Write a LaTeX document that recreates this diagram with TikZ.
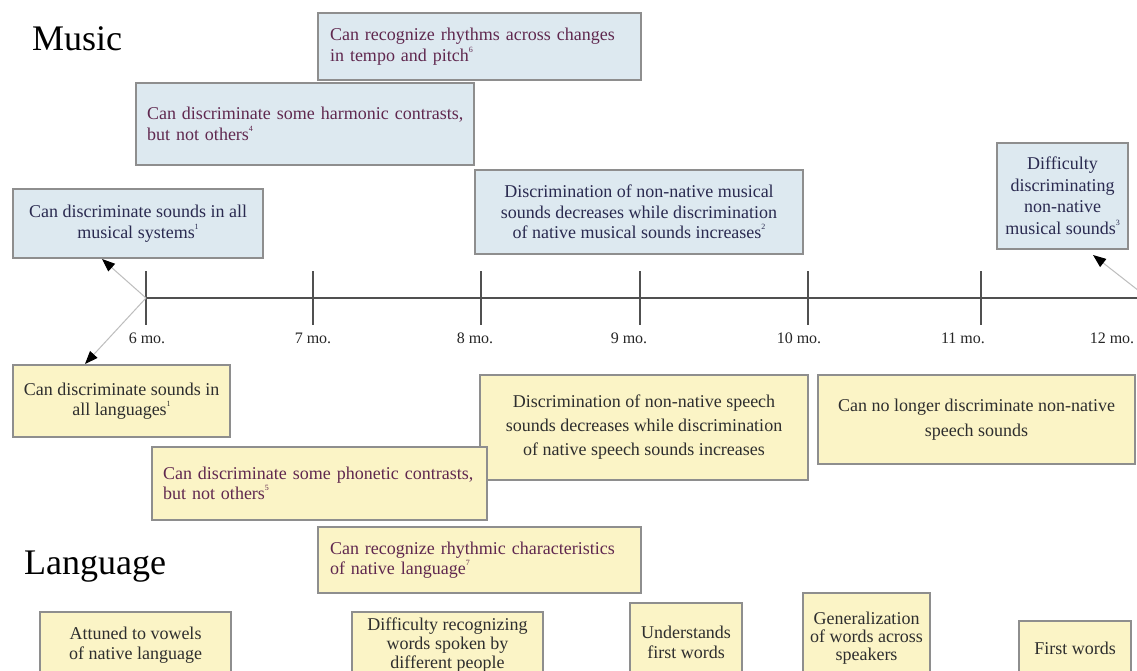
\documentclass[tikz,border=0pt]{standalone}
\usepackage{fontspec}
\setmainfont{Liberation Serif}
\usetikzlibrary{arrows.meta}
\definecolor{mfill}{HTML}{DDE9F0}
\definecolor{lfill}{HTML}{FBF4C6}
\definecolor{bord}{HTML}{8E8E8E}
\definecolor{navy}{HTML}{2A2A50}
\definecolor{plum}{HTML}{60284F}
\definecolor{dtext}{HTML}{2E2E2E}
\definecolor{axisc}{HTML}{505050}
\definecolor{connc}{HTML}{BDBDBD}
\newcommand{\sups}[1]{\raisebox{0.5em}{\fontsize{8}{8}\selectfont #1}}
\begin{document}
\begin{tikzpicture}[x=1pt,y=-1pt,
  box/.style={draw=bord, line width=1.1pt, inner sep=0pt, align=center, font=\fontsize{18}{20.5}\selectfont},
  mbox/.style={box, fill=mfill, text=navy},
  lbox/.style={box, fill=lfill, text=dtext},
  lefttext/.style={text=plum, align=left},
  title/.style={font=\fontsize{36}{40}\selectfont, text=black, inner sep=0pt},
  mlabel/.style={font=\fontsize{16}{18}\selectfont, text=black!85, inner sep=0pt},
  axisline/.style={draw=axisc, line width=1.1pt},
  conn/.style={draw=connc, line width=1pt, -{Triangle[length=13pt,width=10pt,color=black,fill=black]}}
]
\useasboundingbox (0,0) rectangle (1137,671);
\clip (0,0) rectangle (1137,671);
\fill[white] (0,0) rectangle (1137,671);

% titles
\node[title] (music) at (77,39) {Music};
\node[title] (language) at (95,567) {Language};

% timeline
\coordinate (t6) at (146,298);
\coordinate (t12) at (1148,298);
\draw[axisline] (t6) -- (1137,298);
\foreach \x/\n in {146/6,313/7,481/8,640/9,808/10,981/11,1148/12}
  \draw[axisline] (\x,271) -- (\x,325);
\foreach \x/\n in {147/6,313/7,475/8,629/9,799/10,963/11,1112/12}
  \node[mlabel] (lab\n) at (\x,338) {\n\ mo.};

% music boxes
\node[mbox, lefttext, minimum width=323pt, minimum height=67pt, text width=299pt] (m6) at (479.5,46.5)
  {\mbox{Can recognize rhythms across changes}\\\mbox{in tempo and pitch\sups{6}}};
\node[mbox, lefttext, minimum width=338pt, minimum height=82pt, text width=316pt] (m4) at (305,124)
  {\mbox{Can discriminate some harmonic contrasts,}\\\mbox{but not others\sups{4}}};
\node[mbox, minimum width=250pt, minimum height=69pt] (m1) at (138,223.5)
  {Can discriminate sounds in all\\musical systems\sups{1}};
\node[mbox, minimum width=328pt, minimum height=84pt] (m2) at (639,212)
  {Discrimination of non-native musical\\sounds decreases while discrimination\\of native musical sounds increases\sups{2}};
\node[mbox, minimum width=131pt, minimum height=106pt, font=\fontsize{18}{21.5}\selectfont] (m3) at (1062.5,196)
  {Difficulty\\discriminating\\non-native\\musical sounds\sups{3}};

% language boxes
\node[lbox, minimum width=217pt, minimum height=72pt] (l1) at (121.5,401)
  {Can discriminate sounds in\\all languages\sups{1}};
\node[lbox, minimum width=328pt, minimum height=105pt, font=\fontsize{18}{24}\selectfont] (l2) at (644,427.5)
  {Discrimination of non-native speech\\sounds decreases while discrimination\\of native speech sounds increases};
\node[lbox, minimum width=317pt, minimum height=89pt, font=\fontsize{18}{25}\selectfont] (l3) at (976.5,419.5)
  {Can no longer discriminate non-native\\speech sounds};
\node[lbox, lefttext, minimum width=335pt, minimum height=73pt, text width=313pt] (l5) at (319.5,483.5)
  {\mbox{Can discriminate some phonetic contrasts,}\\\mbox{but not others\sups{5}}};
\node[lbox, lefttext, minimum width=323pt, minimum height=66pt, text width=299pt] (l7) at (479.5,560)
  {\mbox{Can recognize rhythmic characteristics}\\\mbox{of native language\sups{7}}};

% bottom boxes
\node[lbox, minimum width=191pt, minimum height=66pt, font=\fontsize{18}{20}\selectfont] (b1) at (135.5,645)
  {Attuned to vowels\\of native language};
\node[lbox, minimum width=191pt, minimum height=66pt, font=\fontsize{18}{19}\selectfont] (b2) at (447.5,645)
  {Difficulty recognizing\\words spoken by\\different people};
\node[lbox, minimum width=112pt, minimum height=78pt, font=\fontsize{18}{20}\selectfont] (b3) at (686,642)
  {Understands\\first words};
\node[lbox, minimum width=127pt, minimum height=90pt, font=\fontsize{18}{18}\selectfont] (b4) at (866.5,638)
  {Generalization\\of words across\\speakers};
\node[lbox, minimum width=112pt, minimum height=54pt] (b5) at (1075,648)
  {First words};

% connectors
\coordinate (a1) at (102,259);
\coordinate (a2) at (85,364);
\coordinate (a3) at (1093,255);
\draw[conn] (t6) -- (a1);
\draw[conn] (t6) -- (a2);
\draw[conn] (t12) -- (a3);
\end{tikzpicture}
\end{document}
